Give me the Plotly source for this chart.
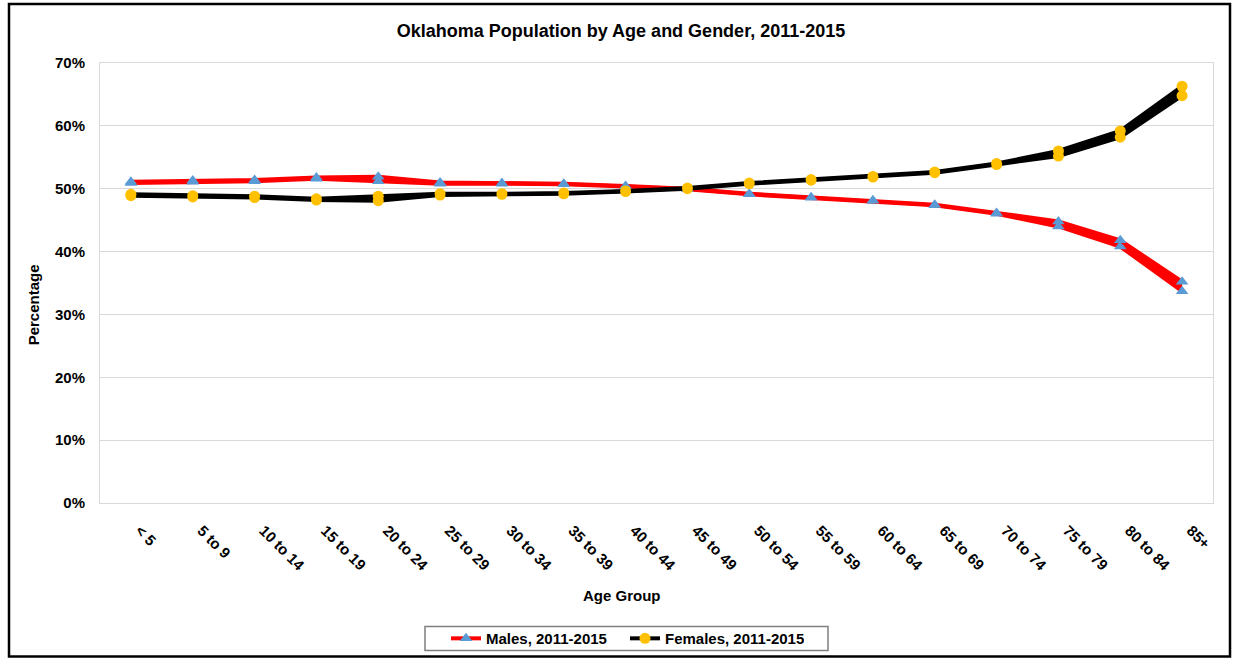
import plotly.graph_objects as go

age_groups = ["< 5", "5 to 9", "10 to 14", "15 to 19", "20 to 24", "25 to 29", "30 to 34",
              "35 to 39", "40 to 44", "45 to 49", "50 to 54", "55 to 59", "60 to 64",
              "65 to 69", "70 to 74", "75 to 79", "80 to 84", "85+"]

males_high = [51.1, 51.3, 51.4, 51.8, 51.9, 51.0, 50.9, 50.8, 50.45, 50.0, 49.2, 48.65,
              48.15, 47.45, 46.15, 44.8, 41.8, 35.2]
males_low = [50.9, 51.1, 51.2, 51.6, 51.2, 50.8, 50.8, 50.7, 50.35, 49.9, 49.1, 48.55,
             48.05, 47.35, 46.0, 44.0, 40.8, 33.7]
females_high = [49.1, 48.9, 48.8, 48.4, 48.8, 49.2, 49.2, 49.3, 49.65, 50.1, 50.9, 51.45,
                51.95, 52.65, 54.0, 56.0, 59.2, 66.3]
females_low = [48.9, 48.7, 48.6, 48.2, 48.1, 49.0, 49.1, 49.2, 49.55, 50.0, 50.8, 51.35,
               51.85, 52.55, 53.85, 55.2, 58.2, 64.8]

y_ticks = [0, 10, 20, 30, 40, 50, 60, 70]

FONT = "Liberation Sans, Arial, sans-serif"
W, H = 1235, 667
SCALE = H / 658.0


def Y(y):
    return y * SCALE


L, R = 100, 22
T = round(Y(62))
B = H - round(Y(503))
PW, PH = W - L - R, H - T - B


def px(x):
    return (x - L) / PW


def py(y):
    return (H - B - Y(y)) / PH


fig = go.Figure()


def add_band(low, high, line_color, marker_color, symbol, name):
    fig.add_trace(go.Scatter(
        x=age_groups, y=[v / 100 for v in low], mode="lines+markers",
        line=dict(color=line_color, width=4),
        marker=dict(symbol=symbol, color=marker_color, size=11),
        name=f"<b>{name}</b>", legendgroup=name, showlegend=True))
    fig.add_trace(go.Scatter(
        x=age_groups, y=[v / 100 for v in high], mode="lines+markers",
        line=dict(color=line_color, width=4), fill="tonexty", fillcolor=line_color,
        marker=dict(symbol=symbol, color=marker_color, size=11),
        name=name, legendgroup=name, showlegend=False, hoverinfo="skip"))


add_band(males_low, males_high, "#FF0000", "#5B9BD5", "triangle-up", "Males, 2011-2015")
add_band(females_low, females_high, "#000000", "#FFC000", "circle", "Females, 2011-2015")

fig.update_layout(
    width=W, height=H,
    margin=dict(l=L, r=R, t=T, b=B),
    paper_bgcolor="white", plot_bgcolor="white",
    font=dict(family=FONT, color="black"),
    title=dict(text="<b>Oklahoma Population by Age and Gender, 2011-2015</b>",
               x=621 / W, xanchor="center", xref="container",
               y=1 - Y(30) / H, yanchor="middle", yref="container",
               font=dict(size=18, family=FONT, color="black")),
    showlegend=True,
    legend=dict(orientation="h", x=px(446), xanchor="left", y=py(639), yanchor="middle",
                borderwidth=0, bgcolor="rgba(0,0,0,0)",
                font=dict(size=15, family=FONT, color="black"),
                entrywidth=134, entrywidthmode="pixels", tracegroupgap=0),
    xaxis=dict(
        type="category", tickangle=45, showgrid=False,
        ticks="outside", ticklen=12, tickcolor="rgba(0,0,0,0)",
        ticklabelshift=9,
        tickfont=dict(size=15, family=FONT, color="black"),
        showline=True, linecolor="#D9D9D9", linewidth=1, mirror=True,
        tickprefix="<b>", ticksuffix="</b>", range=[-0.5, len(age_groups) - 0.5]),
    yaxis=dict(
        range=[0, 0.7], tickvals=[v / 100 for v in y_ticks],
        ticktext=[f"<b>{v}%</b>" for v in y_ticks],
        tickfont=dict(size=15, family=FONT, color="black"),
        showgrid=True, gridcolor="#D9D9D9", gridwidth=1, zeroline=False,
        showline=True, linecolor="#D9D9D9", linewidth=1, mirror=True,
        ticks="outside", ticklen=11, tickcolor="rgba(0,0,0,0)"),
    annotations=[
        dict(text="<b>Age Group</b>", x=px(622), y=py(596), xref="paper", yref="paper",
             showarrow=False, xanchor="center", yanchor="middle",
             font=dict(size=15, family=FONT, color="black")),
        dict(text="<b>Percentage</b>", x=px(33), y=py(305), xref="paper", yref="paper",
             showarrow=False, xanchor="center", yanchor="middle", textangle=-90,
             font=dict(size=15, family=FONT, color="black")),
    ],
    shapes=[
        dict(type="rect", xref="paper", yref="paper",
             x0=px(9), x1=px(1230), y0=py(657), y1=py(3),
             line=dict(color="black", width=2.5), fillcolor="rgba(0,0,0,0)", layer="below"),
        dict(type="rect", xref="paper", yref="paper",
             x0=px(425), x1=px(828), y0=py(651), y1=py(627),
             line=dict(color="#7F7F7F", width=1.5), fillcolor="white", layer="below"),
    ],
)

post = ("document.documentElement.style.margin='0';document.body.style.margin='0';"
        "document.body.style.overflow='hidden';"
        "var d=document.getElementById('{plot_id}');"
        "d.style.position='fixed';d.style.top='0px';d.style.left='0px';")

fig.write_html("out.html", config={"displayModeBar": False}, post_script=post)
